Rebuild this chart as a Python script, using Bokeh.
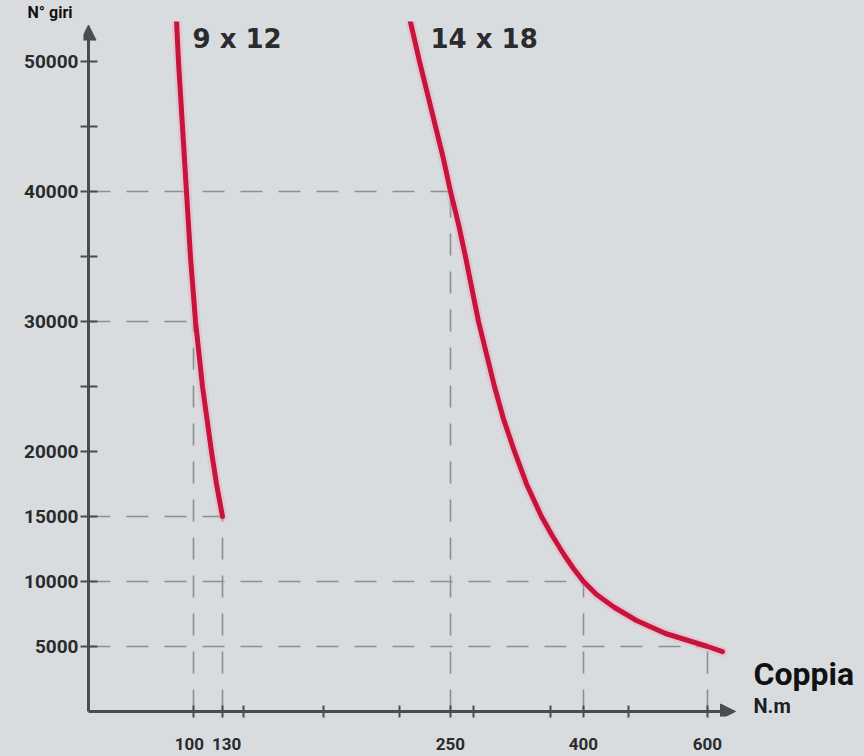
from bokeh.plotting import figure
from bokeh.models import FixedTicker, Arrow, NormalHead, Label, Range1d
from bokeh.embed import file_html
from bokeh.resources import INLINE
import numpy as np

# ---------------- data ----------------
# y axis (N° giri, rpm)
rpm_labeled = [5000, 10000, 15000, 20000, 30000, 40000, 50000]
rpm_minor = [25000, 35000, 45000]

# x axis (Coppia, N.m) - the drawing uses a schematic, non-linear torque scale
nm_labeled = [100, 130, 250, 400, 600]
nm_minor = [141, 183, 223, 276, 363, 473]
scale_nm = [0, 100, 130, 250, 400, 600, 700]      # torque knots
scale_u = [0, 105, 134, 362, 495, 619, 681]       # drawn axis units for those knots

# curve "9 x 12"
c1_nm = [83.3, 85.7, 89.5, 93.3, 97.1, 102.1, 109.3, 118.6, 123.8, 130]
c1_rpm = [54000, 50000, 45000, 40000, 35000, 30000, 25000, 20000, 17500, 15000]

# curve "14 x 18"
c2_nm = [227.4, 233.7, 237.9, 242.1, 246.3, 250, 259.0, 266.9, 274.2, 281.6, 290.6,
         299.6, 309.8, 322.2, 335.7, 352.6, 365.0, 378.6, 388.7, 400, 421.0, 450.0,
         485.5, 532.3, 600, 624.2]
c2_rpm = [54000, 50000, 47500, 45000, 42500, 40000, 37500, 35000, 32500, 30000, 27500,
          25000, 22500, 20000, 17500, 15000, 13500, 12000, 11000, 10000, 9000, 8000,
          7000, 6000, 5000, 4600]

# dashed reference points (torque, rpm)
ref_nm = [100, 130, 250, 400, 600]
ref_rpm = [30000, 15000, 40000, 10000, 5000]

curve_names = ["9 x 12", "14 x 18"]


def sx(nm):
    return np.interp(np.asarray(nm, dtype=float), scale_nm, scale_u)


BG = "#d9dcdf"
AX = "#4a4c4f"
RED = "#c8143c"
TXT = "#2a2b2d"

p = figure(width=864, height=756, output_backend="svg", toolbar_location=None,
           x_range=Range1d(-5, 776), y_range=Range1d(-385, 53074),
           min_border_left=83, min_border_right=0, min_border_top=0,
           min_border_bottom=40, title="N° giri")
p.background_fill_color = BG
p.border_fill_color = BG
p.outline_line_color = None
p.grid.visible = False

p.title.align = "left"
p.title.offset = -56
p.title.standoff = 0
p.title.text_font = "Roboto"
p.title.text_font_style = "bold"
p.title.text_font_size = "16px"
p.title.text_color = "#111111"

# dashed reference lines
rx = sx(ref_nm)
p.segment(x0=np.zeros(len(rx)), y0=ref_rpm, x1=rx, y1=ref_rpm,
          line_color="#8c8f93", line_width=1.6, line_dash="22 16")
p.segment(x0=rx, y0=np.zeros(len(rx)), x1=rx, y1=ref_rpm,
          line_color="#8c8f93", line_width=1.6, line_dash="22 16")

# curves (soft halo + main line)
for xs, ys in [(c1_nm, c1_rpm), (c2_nm, c2_rpm)]:
    p.line(sx(xs), ys, line_color="#e8a0b4", line_width=10, line_alpha=0.35,
           line_cap="round", line_join="round")
    p.line(sx(xs), ys, line_color=RED, line_width=5, line_cap="round",
           line_join="round")

# axes ticks
xt_all = [int(round(v)) for v in sx(nm_labeled + nm_minor)]
lab_txt = {100: "100\u00a0\u00a0", 130: "\u00a0\u00a0130"}
xt_lab = {int(round(v)): lab_txt.get(n, str(n)) for v, n in zip(sx(nm_labeled), nm_labeled)}
p.xaxis.ticker = FixedTicker(ticks=xt_all)
p.xaxis.major_label_overrides = {t: xt_lab.get(t, "") for t in xt_all}

yt_all = rpm_labeled + rpm_minor
p.yaxis.ticker = FixedTicker(ticks=yt_all)
p.yaxis.major_label_overrides = {t: (str(t) if t in rpm_labeled else "") for t in yt_all}

for ax in (p.xaxis[0], p.yaxis[0]):
    ax.axis_line_color = None
    ax.minor_tick_line_color = None
    ax.major_tick_line_color = AX
    ax.major_tick_line_width = 2
    ax.major_label_text_font = "Roboto"
    ax.major_label_text_font_style = "bold"
    ax.major_label_text_color = TXT

p.xaxis.major_label_text_font_size = "17px"
p.yaxis.major_label_text_font_size = "19px"
p.xaxis.major_tick_in = 11
p.xaxis.major_tick_out = 1
p.xaxis.major_label_standoff = 16
p.yaxis.major_tick_in = 14
p.yaxis.major_tick_out = 3
p.yaxis.major_label_standoff = 2

# axis lines with arrow heads
p.add_layout(Arrow(end=NormalHead(size=15, fill_color=AX, line_color=AX),
                   x_start=0, y_start=0, x_end=647, y_end=0,
                   line_color=AX, line_width=3))
p.add_layout(Arrow(end=NormalHead(size=15, fill_color=AX, line_color=AX),
                   x_start=0, y_start=0, x_end=0, y_end=52800,
                   line_color=AX, line_width=3))

# curve labels
for xname, name in zip([104, 342], curve_names):
    p.add_layout(Label(x=xname, y=51766, text=name, text_font="DejaVu Sans",
                       text_font_style="bold", text_font_size="26px",
                       text_color=TXT, text_baseline="alphabetic"))

# axis titles
p.add_layout(Label(x=665, y=2922, text="Coppia", text_font="Roboto",
                   text_font_style="bold", text_font_size="32px",
                   text_color="#111111", text_baseline="alphabetic"))
p.add_layout(Label(x=665, y=460, text="N.m", text_font="Roboto",
                   text_font_style="bold", text_font_size="20px",
                   text_color="#1e1f21", text_baseline="alphabetic"))

html = file_html(p, INLINE)
html = html.replace("<head>", "<head><style>body{background:%s}</style>" % BG, 1)
open("out.html", "w").write(html)
